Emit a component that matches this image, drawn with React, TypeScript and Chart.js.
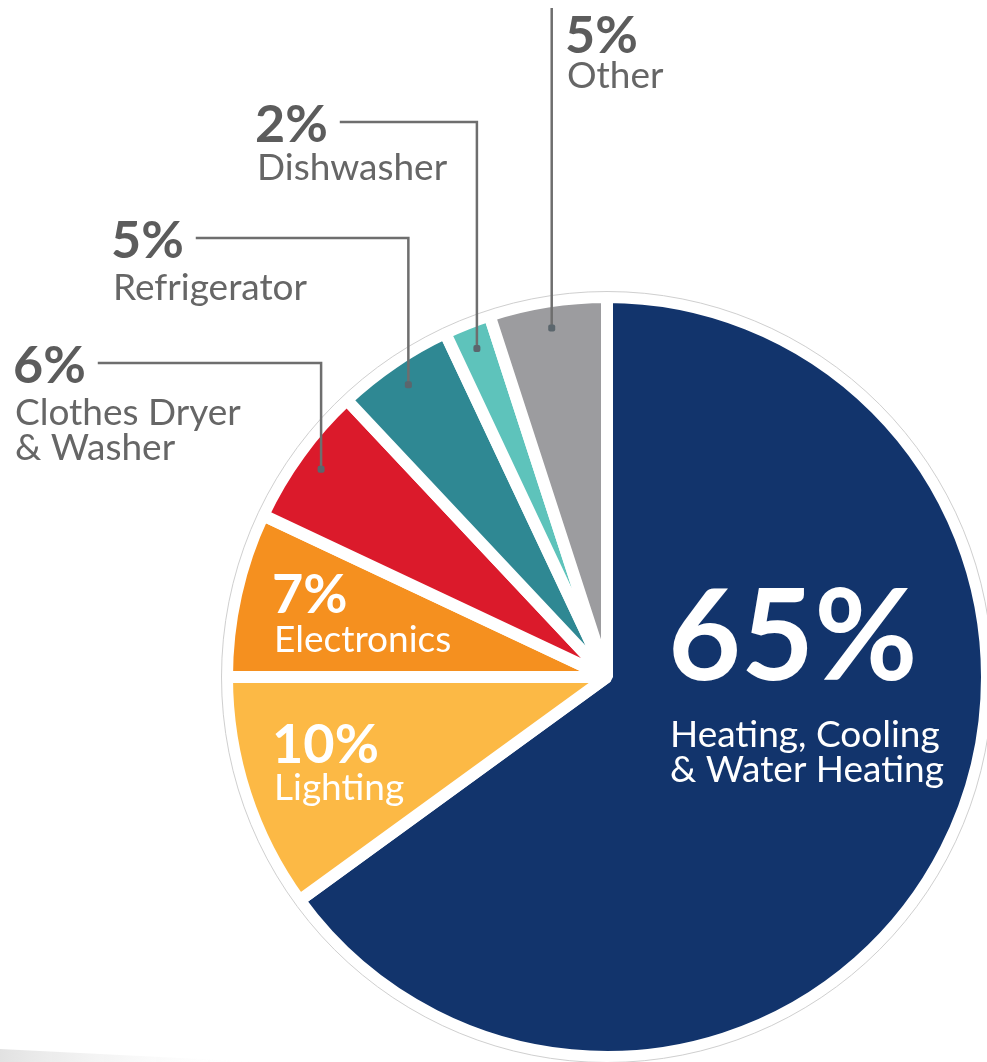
import React, { useEffect, useRef } from "react";
import { Chart, registerables } from "chart.js";

Chart.register(...registerables);

// ---------------- data ----------------
const categories = [
  "Heating, Cooling & Water Heating",
  "Lighting",
  "Electronics",
  "Clothes Dryer & Washer",
  "Refrigerator",
  "Dishwasher",
  "Other",
];
const shares = [65, 10, 7, 6, 5, 2, 5];
const labelLines = [
  ["Heating, Cooling", "& Water Heating"],
  ["Lighting"],
  ["Electronics"],
  ["Clothes Dryer", "& Washer"],
  ["Refrigerator"],
  ["Dishwasher"],
  ["Other"],
];
const sliceColors = [
  "#12346c",
  "#fcb945",
  "#f5901f",
  "#db1a2b",
  "#2f8893",
  "#5ec3bb",
  "#9c9c9f",
];

// ---------------- label layout (styling only) ----------------
type Lay = {
  x: number;
  y: number; // baseline of percent text
  inside: boolean;
  pct: number;
  txt: number;
  gap: number; // baseline offset of first text line below percent baseline
  lh: number; // line height
  leader: "none" | "elbow" | "vertical";
};
const layout: Lay[] = [
  { x: 668, y: 680, inside: true, pct: 126, txt: 37, gap: 67, lh: 35, leader: "none" },
  { x: 272, y: 763, inside: true, pct: 54, txt: 37, gap: 37, lh: 34, leader: "none" },
  { x: 272, y: 613, inside: true, pct: 54, txt: 37, gap: 39, lh: 34, leader: "none" },
  { x: 13, y: 383, inside: false, pct: 52, txt: 37, gap: 42, lh: 35, leader: "elbow" },
  { x: 111, y: 258, inside: false, pct: 52, txt: 37, gap: 42, lh: 35, leader: "elbow" },
  { x: 255, y: 142, inside: false, pct: 52, txt: 37, gap: 38, lh: 35, leader: "elbow" },
  { x: 565, y: 53, inside: false, pct: 52, txt: 37, gap: 35, lh: 35, leader: "vertical" },
];

const FONT = "Lato, 'Noto Sans', sans-serif";

const decorPlugin = {
  id: "decor",
  beforeDatasetsDraw(chart: any) {
    const ctx = chart.ctx as CanvasRenderingContext2D;
    // faint page shadow bottom-left
    ctx.save();
    const g = ctx.createLinearGradient(0, 0, 260, 0);
    g.addColorStop(0, "#e2e2e2");
    g.addColorStop(1, "rgba(255,255,255,0)");
    ctx.fillStyle = g;
    ctx.beginPath();
    ctx.moveTo(0, 1049);
    ctx.lineTo(260, 1062);
    ctx.lineTo(0, 1062);
    ctx.closePath();
    ctx.fill();
    ctx.restore();
  },
  afterDatasetsDraw(chart: any) {
    const ctx = chart.ctx as CanvasRenderingContext2D;
    const meta = chart.getDatasetMeta(0);
    const arcs = meta.data as any[];
    if (!arcs.length) return;
    const cx = arcs[0].x;
    const cy = arcs[0].y;
    const R = arcs[0].outerRadius;

    // thin outline circle around the pie
    ctx.save();
    ctx.strokeStyle = "#cfcfcf";
    ctx.lineWidth = 1;
    ctx.beginPath();
    ctx.arc(cx, cy, R + 5.5, 0, Math.PI * 2);
    ctx.stroke();
    ctx.restore();

    arcs.forEach((arc, i) => {
      const L = layout[i];
      const pctText = `${shares[i]}%`;
      ctx.save();
      ctx.textBaseline = "alphabetic";
      ctx.textAlign = "left";
      ctx.fillStyle = L.inside ? "#ffffff" : "#5c5c5c";
      ctx.font = `700 ${L.pct}px ${FONT}`;
      ctx.fillText(pctText, L.x, L.y);
      const pctW = ctx.measureText(pctText).width;
      ctx.fillStyle = L.inside ? "#ffffff" : "#666666";
      ctx.font = `400 ${L.txt}px ${FONT}`;
      labelLines[i].forEach((ln, k) => {
        ctx.fillText(ln, L.x + 2, L.y + L.gap + k * L.lh);
      });

      if (L.leader !== "none") {
        const mid = (arc.startAngle + arc.endAngle) / 2;
        const r = R * 0.93;
        const dx = cx + r * Math.cos(mid);
        const dy = cy + r * Math.sin(mid);
        ctx.strokeStyle = "#6e6e6e";
        ctx.lineWidth = 2.5;
        ctx.beginPath();
        if (L.leader === "elbow") {
          const ly = L.y - 20;
          ctx.moveTo(L.x + pctW + 12, ly);
          ctx.lineTo(dx, ly);
          ctx.lineTo(dx, dy);
        } else {
          ctx.moveTo(dx, 8);
          ctx.lineTo(dx, dy);
        }
        ctx.stroke();
        ctx.fillStyle = "#5b666d";
        ctx.beginPath();
        const s = 7;
        if ((ctx as any).roundRect) {
          (ctx as any).roundRect(dx - s / 2, dy - s / 2, s, s, 2);
        } else {
          ctx.rect(dx - s / 2, dy - s / 2, s, s);
        }
        ctx.fill();
      }
      ctx.restore();
    });
  },
};

export default function App() {
  const ref = useRef<HTMLCanvasElement | null>(null);
  useEffect(() => {
    if (!ref.current) return;
    const chart = new Chart(ref.current, {
      type: "pie",
      data: {
        labels: categories,
        datasets: [
          {
            data: shares,
            backgroundColor: sliceColors,
            borderColor: "#ffffff",
            borderWidth: 12,
            borderAlign: "center",
          },
        ],
      },
      options: {
        responsive: false,
        animation: false,
        events: [],
        radius: 380,
        layout: { padding: { left: 227, right: 0, top: 292, bottom: 0 } },
        plugins: {
          legend: { display: false },
          tooltip: { enabled: false },
          title: { display: false },
        },
      } as any,
      plugins: [decorPlugin],
    });
    return () => chart.destroy();
  }, []);
  return (
    <div style={{ position: "absolute", left: 0, top: 0, width: 987, height: 1062, background: "#fff" }}>
      <canvas ref={ref} width={987} height={1062} style={{ display: "block" }} />
    </div>
  );
}
